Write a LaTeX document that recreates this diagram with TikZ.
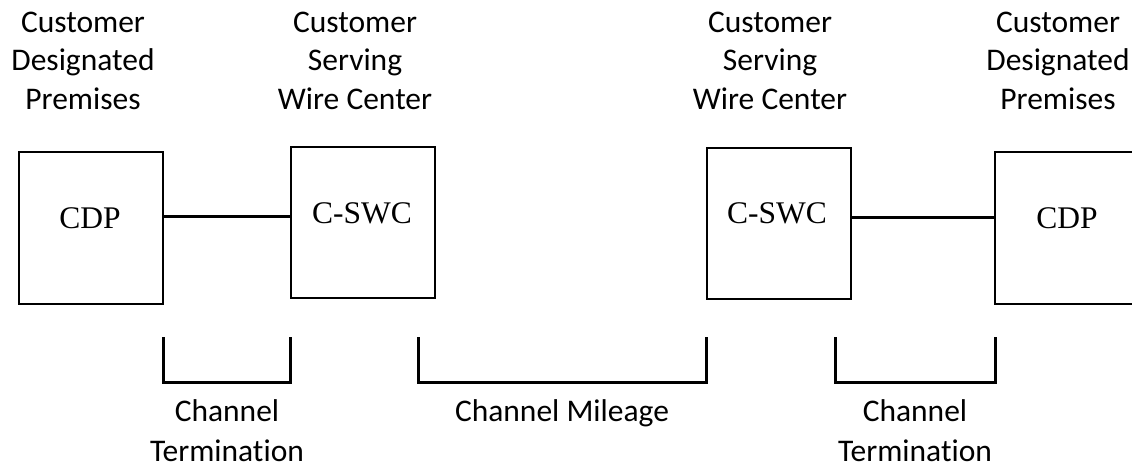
\documentclass[tikz,border=0pt]{standalone}
\usepackage{fontspec}
\setmainfont{Liberation Serif}
\newfontfamily\labelfont[Ligatures=NoCommon]{Carlito}
\usetikzlibrary{calc}

\begin{document}
\begin{tikzpicture}[x=0.5pt,y=-0.5pt,
  site/.style={draw,line width=1pt,minimum width=72pt,minimum height=76pt,inner sep=0},
  boxtext/.style={font=\fontsize{15.75}{19}\selectfont},
  caption/.style={font=\labelfont\fontsize{15.75}{19.25}\selectfont,align=center,anchor=base,inner sep=0},
  lowcaption/.style={caption,font=\labelfont\fontsize{15.75}{20}\selectfont},
  link/.style={line width=1.5pt},
  span/.style={line width=1.5pt,line join=miter}]

			\useasboundingbox (0,0) rectangle (1132,466);
			\clip (0,0) rectangle (1132,466);

			% boxes
			\node[site] (cdpL) at (91,228) {};
			\node[site,minimum height=75.5pt] (swcL) at (363,222.5) {};
			\node[site,minimum height=75.5pt] (swcR) at (779,223) {};
			\node[site] (cdpR) at (1067,228) {};

			\node[boxtext] (cdpLtext) at ($(cdpL)+(-1,-10)$) {CDP};
			\node[boxtext] (swcLtext) at ($(swcL)+(-1,-9.5)$) {C-SWC};
			\node[boxtext] (swcRtext) at ($(swcR)+(-2,-10)$) {C-SWC};
			\node[boxtext] (cdpRtext) at ($(cdpR)+(0,-10)$) {CDP};

			% links
			\coordinate (jL) at ($(cdpL.east)+(0,-11.5)$);
			\coordinate (jR) at ($(swcR.east)+(0,-6)$);
			\draw[link] (jL) -- (jL -| swcL.west);
			\draw[link] (jR) -- (jR -| cdpR.west);

			% headers (base = last line)
			\node[caption] (hdrCdpL) at (83,109) {Customer\\Designated\\Premises};
			\node[caption] (hdrSwcL) at (355,109) {Customer\\Serving\\Wire Center};
			\node[caption] (hdrSwcR) at (770,109) {Customer\\Serving\\Wire Center};
			\node[caption] (hdrCdpR) at (1058,109) {Customer\\Designated\\Premises};

			% brackets
			\coordinate (ctLa) at (163,337);
			\coordinate (ctLb) at (163,382);
			\coordinate (ctLc) at (290,382);
			\coordinate (ctLd) at (290,337);
			\coordinate (cma) at (418,337);
			\coordinate (cmb) at (418,382);
			\coordinate (cmc) at (706,382);
			\coordinate (cmd) at (706,337);
			\coordinate (ctRa) at (835,337);
			\coordinate (ctRb) at (835,382);
			\coordinate (ctRc) at (995,382);
			\coordinate (ctRd) at (995,337);
			\draw[span] (ctLa) -- (ctLb) -- (ctLc) -- (ctLd);
			\draw[span] (cma) -- (cmb) -- (cmc) -- (cmd);
			\draw[span] (ctRa) -- (ctRb) -- (ctRc) -- (ctRd);

			\node[lowcaption] (ctLtext) at (227,461) {Channel\\Termination};
			\node[lowcaption] (cmtext) at (562,421) {Channel Mileage};
			\node[lowcaption] (ctRtext) at (915,461) {Channel\\Termination};

		\end{tikzpicture}
\end{document}
